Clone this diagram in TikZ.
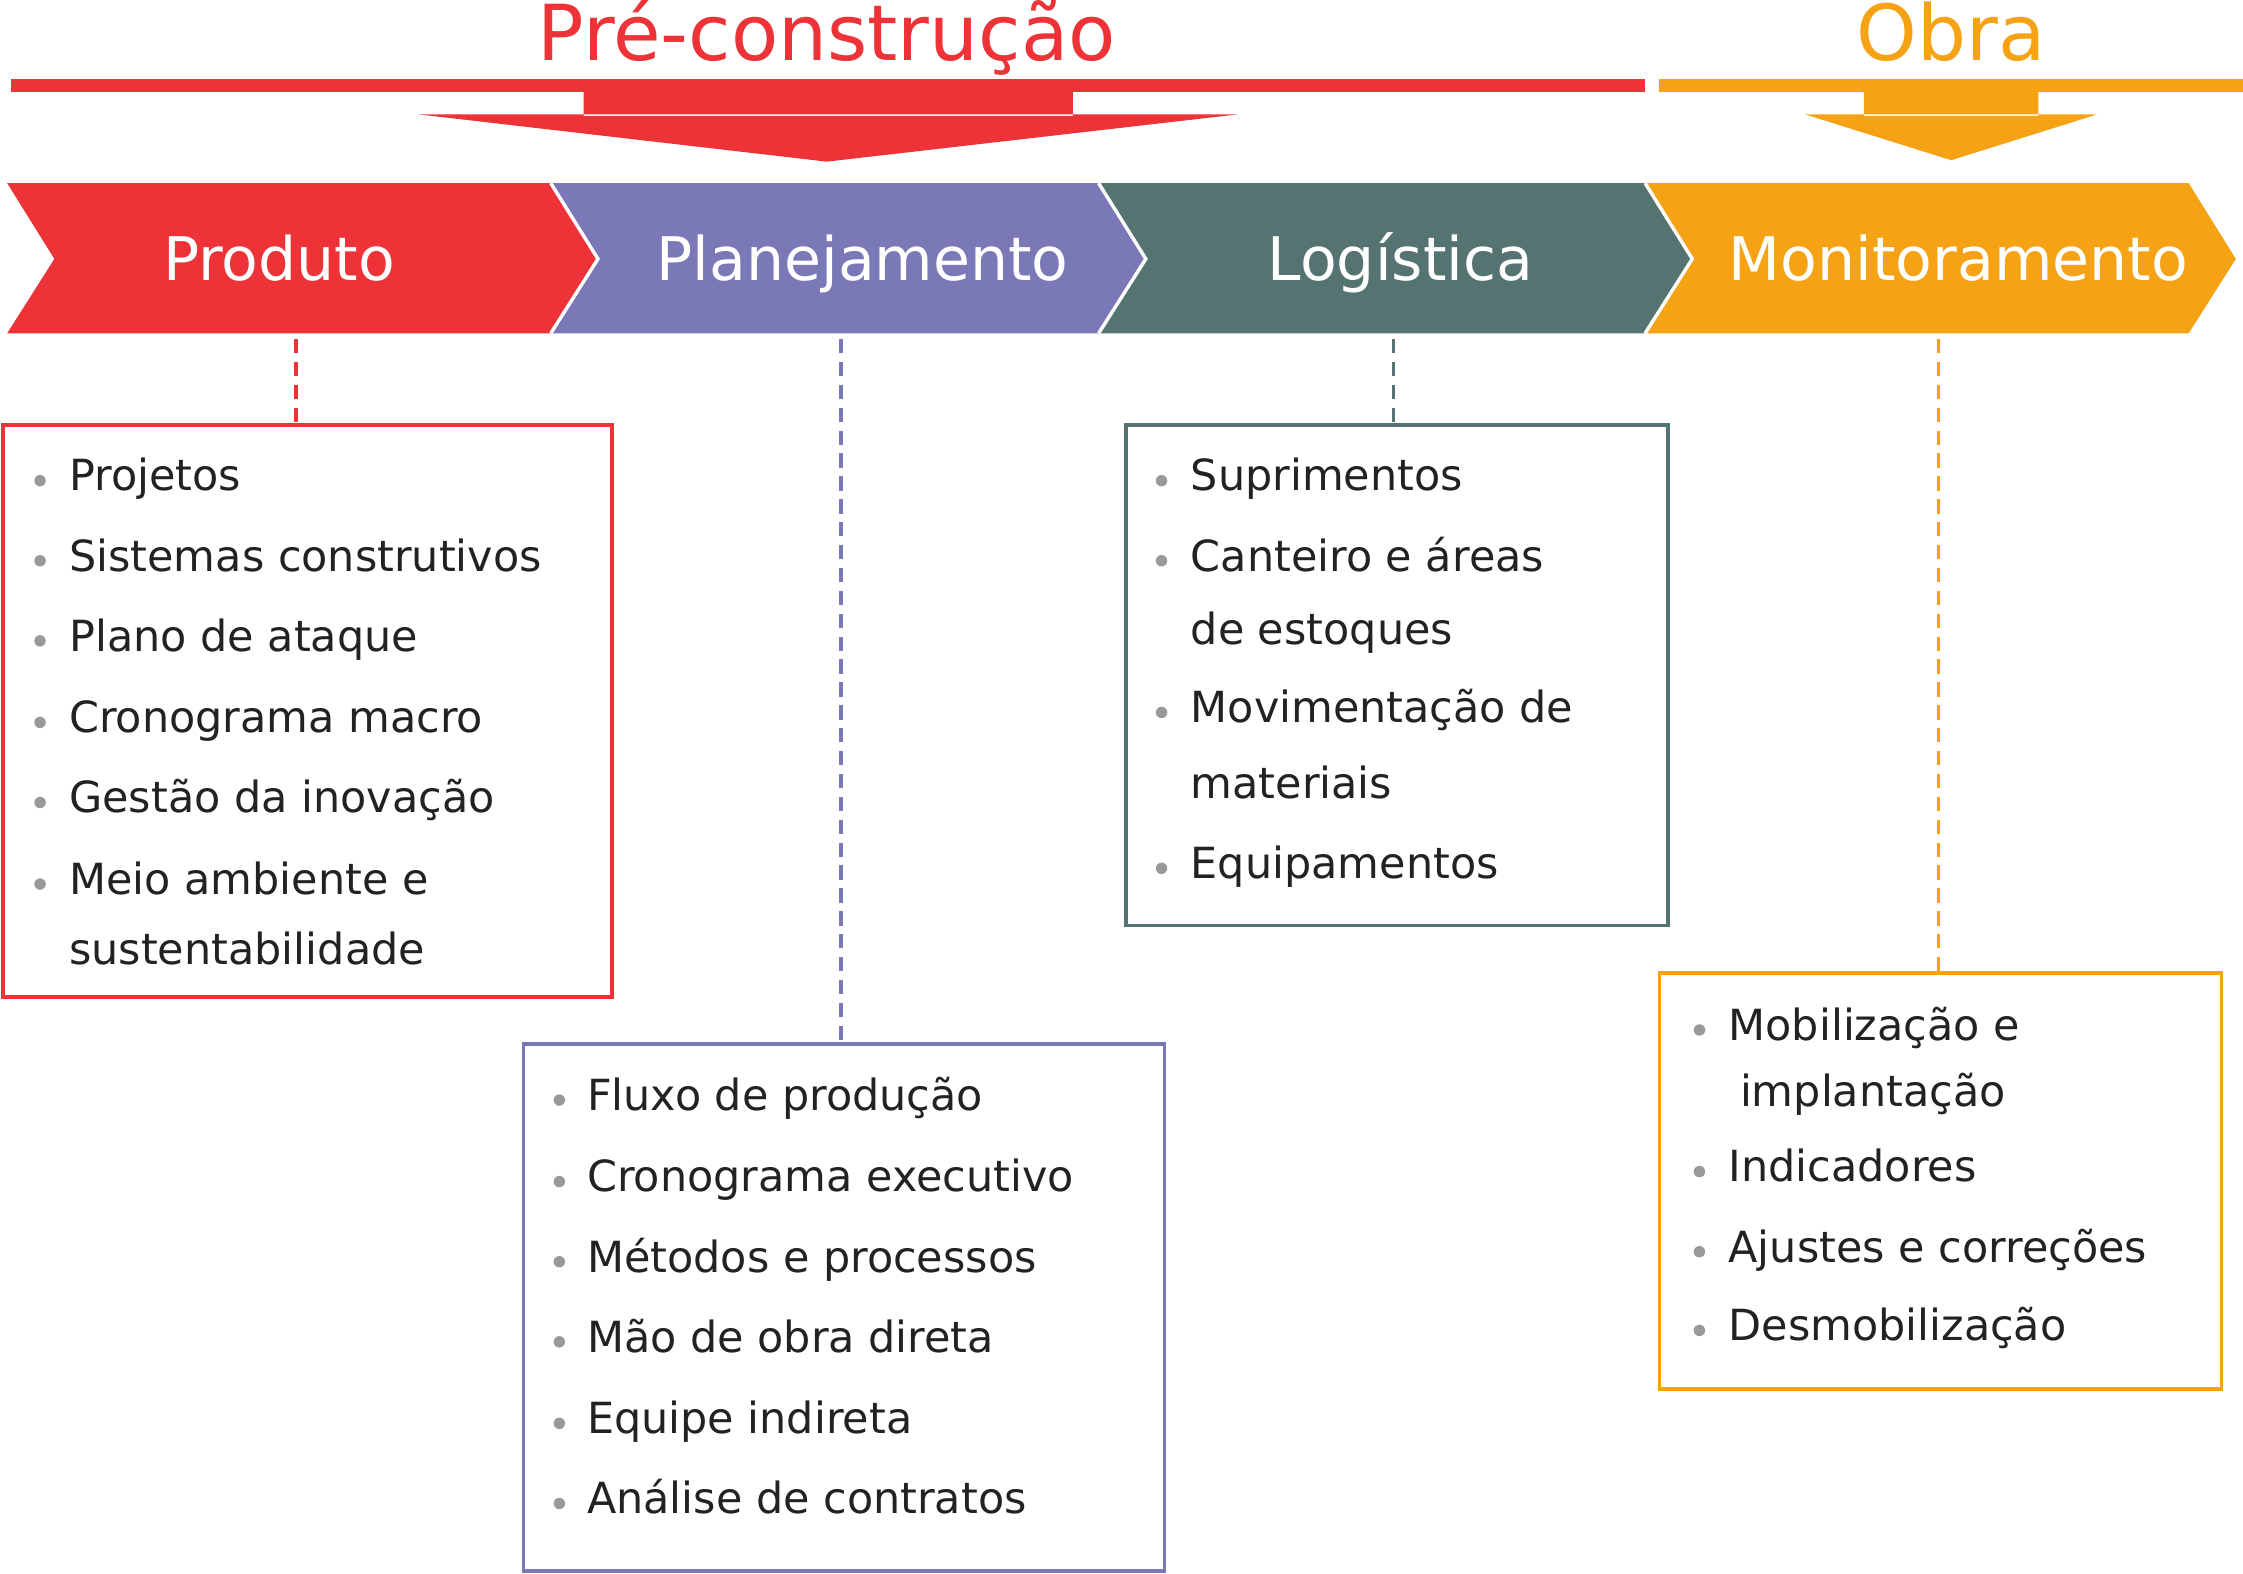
\documentclass[tikz,border=0pt]{standalone}
\usepackage{fontspec}
\setmainfont{DejaVu Sans}
\definecolor{cred}{HTML}{EE3338}
\definecolor{cpur}{HTML}{7B78B8}
\definecolor{cteal}{HTML}{557370}
\definecolor{corg}{HTML}{F5A214}
\definecolor{ctxt}{HTML}{222222}
\begin{document}
\begin{tikzpicture}[x=0.5pt,y=-0.5pt,
  head/.style={text=white,anchor=base,font=\fontsize{21}{24}\selectfont},
  item/.style={anchor=west,text=ctxt,font=\fontsize{15}{18}\selectfont,inner sep=0},
  bul/.style={circle,fill=gray!80,inner sep=0,minimum size=4pt},
  conn/.style={dashed,line width=1.2pt,dash pattern=on 5pt off 3pt},
  box/.style={line width=1.3pt}]
\useasboundingbox (0,0) rectangle (1568,1100);
% top arrows
\fill[cred] (8,55) rectangle (1150,64);
\fill[cred] (408,63) rectangle (750,81) (293,80) -- (865,80) -- (578,113) -- cycle;
\fill[corg] (1160,55) rectangle (1568,64);
\fill[corg] (1303,63) rectangle (1425,81) (1262,80) -- (1466,80) -- (1364,112) -- cycle;
\node[text=cred,anchor=base,inner sep=0,font=\fontsize{27}{30}\selectfont] (t1) at (578,42) {Pré-construção};
\node[text=corg,anchor=base,inner sep=0,font=\fontsize{27}{30}\selectfont] (t2) at (1364,42) {Obra};
% chevrons
\fill[cred] (5,128) -- (385,128) -- (418,181) -- (385,233) -- (5,233) -- (38,181) -- cycle;
\fill[cpur] (385,128) -- (768,128) -- (801,181) -- (768,233) -- (385,233) -- (418,181) -- cycle;
\fill[cteal] (768,128) -- (1150,128) -- (1183,181) -- (1150,233) -- (768,233) -- (801,181) -- cycle;
\fill[corg] (1150,128) -- (1530,128) -- (1563,181) -- (1530,233) -- (1150,233) -- (1183,181) -- cycle;
\draw[white,line width=1.2pt] (385,128) -- (418,181) -- (385,233) (768,128) -- (801,181) -- (768,233) (1150,128) -- (1183,181) -- (1150,233);
\node[head] (h1) at (195,196) {Produto};
\node[head] (h2) at (603,196) {Planejamento};
\node[head] (h3) at (979,196) {Logística};
\node[head] (h4) at (1369,196) {Monitoramento};
% boxes
\draw[box,cred] (2,297) rectangle (428,697);
\draw[box,cpur] (366,730) rectangle (814,1098);
\draw[box,cteal] (787,297) rectangle (1166,647);
\draw[box,corg] (1160,680) rectangle (1553,971);
\coordinate (c1a) at (207,237); \coordinate (c1b) at (207,296);
\coordinate (c2a) at (588,237); \coordinate (c2b) at (588,729);
\coordinate (c3a) at (974,237); \coordinate (c3b) at (974,296);
\coordinate (c4a) at (1355,237); \coordinate (c4b) at (1355,679);
\draw[conn,cred] (c1a) -- (c1b);
\draw[conn,cpur] (c2a) -- (c2b);
\draw[conn,cteal] (c3a) -- (c3b);
\draw[conn,corg] (c4a) -- (c4b);
% items red
\foreach \y/\t [count=\i] in {336/Projetos,392/Sistemas construtivos,448/Plano de ataque,505/Cronograma macro,561/Gestão da inovação,618/Meio ambiente e}
  {\node[bul] (rb\i) at (28,\y) {}; \node[item] (ri\i) at (48,\y) {\strut\t};}
\node[item] (ri7) at (48,667) {\strut sustentabilidade};
% items purple
\foreach \y/\t [count=\i] in {769/Fluxo de produção,826/Cronograma executivo,882/Métodos e processos,938/Mão de obra direta,995/Equipe indireta,1051/Análise de contratos}
  {\node[bul] (pb\i) at (391,\y) {}; \node[item] (pi\i) at (410,\y) {\strut\t};}
% items teal
\foreach \y/\t [count=\i] in {336/Suprimentos,392/Canteiro e áreas,498/Movimentação de,607/Equipamentos}
  {\node[bul] (tb\i) at (812,\y) {}; \node[item] (ti\i) at (832,\y) {\strut\t};}
\node[item] (ti5) at (832,443) {\strut de estoques};
\node[item] (ti6) at (832,551) {\strut materiais};
% items orange
\foreach \y/\t [count=\i] in {720/Mobilização e,819/Indicadores,875/Ajustes e correções,930/Desmobilização}
  {\node[bul] (ob\i) at (1188,\y) {}; \node[item] (oi\i) at (1208,\y) {\strut\t};}
\node[item] (oi5) at (1216,766) {\strut implantação};
\end{tikzpicture}
\end{document}
